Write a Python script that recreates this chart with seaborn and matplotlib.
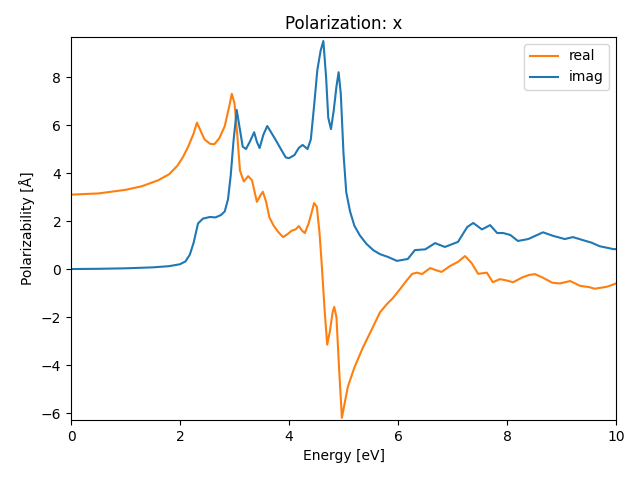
import matplotlib
matplotlib.use('Agg')
import matplotlib.pyplot as plt
import seaborn as sns

# real part
real_e = [0.0, 0.5, 1.0, 1.3, 1.6, 1.8, 1.95, 2.05, 2.15, 2.25, 2.31, 2.38, 2.45, 2.55, 2.63,
          2.72, 2.82, 2.9, 2.95, 3.0, 3.05, 3.1, 3.17, 3.25, 3.32, 3.41, 3.47, 3.52, 3.58,
          3.64, 3.72, 3.8, 3.89, 3.97, 4.05, 4.12, 4.18, 4.24, 4.29, 4.36, 4.42, 4.46, 4.51,
          4.56, 4.6, 4.65, 4.7, 4.75, 4.8, 4.83, 4.87, 4.92, 4.97, 5.02, 5.08, 5.2, 5.35,
          5.5, 5.67, 5.8, 5.91, 6.05, 6.15, 6.26, 6.35, 6.44, 6.59, 6.7, 6.8, 6.95, 7.1,
          7.23, 7.35, 7.47, 7.63, 7.74, 7.87, 8.0, 8.11, 8.29, 8.4, 8.51, 8.65, 8.83, 8.97,
          9.16, 9.34, 9.5, 9.61, 9.83, 9.98, 10.0]
real_v = [3.1, 3.15, 3.3, 3.45, 3.7, 3.95, 4.3, 4.65, 5.1, 5.65, 6.1, 5.75, 5.4, 5.22, 5.2,
          5.45, 5.95, 6.75, 7.3, 6.9, 5.6, 4.1, 3.65, 3.87, 3.7, 2.8, 3.05, 3.22, 2.8,
          2.15, 1.8, 1.55, 1.33, 1.45, 1.6, 1.65, 1.79, 1.6, 1.5, 1.9, 2.4, 2.75, 2.6,
          1.5, 0.2, -1.6, -3.15, -2.6, -1.8, -1.58, -2.0, -4.2, -6.2, -5.6, -4.9, -4.1, -3.3,
          -2.6, -1.8, -1.45, -1.2, -0.8, -0.5, -0.2, -0.15, -0.21, 0.04, -0.05, -0.12, 0.12, 0.3,
          0.54, 0.25, -0.2, -0.15, -0.55, -0.42, -0.48, -0.55, -0.34, -0.25, -0.21, -0.35, -0.57, -0.6,
          -0.5, -0.7, -0.75, -0.82, -0.74, -0.62, -0.6]

# imaginary part
imag_e = [0.0, 0.5, 1.0, 1.5, 1.8, 2.0, 2.1, 2.18, 2.25, 2.33, 2.42, 2.55, 2.65, 2.75,
          2.82, 2.88, 2.93, 2.98, 3.04, 3.1, 3.15, 3.21, 3.28, 3.36, 3.41, 3.46, 3.53,
          3.6, 3.67, 3.75, 3.85, 3.94, 4.0, 4.1, 4.18, 4.25, 4.34, 4.4, 4.46, 4.52, 4.58,
          4.63, 4.68, 4.72, 4.77, 4.82, 4.87, 4.91, 4.95, 5.0, 5.05, 5.12, 5.2, 5.3, 5.42,
          5.55, 5.67, 5.82, 5.98, 6.18, 6.31, 6.5, 6.68, 6.86, 7.1, 7.27, 7.38, 7.54, 7.69,
          7.82, 7.93, 8.06, 8.2, 8.39, 8.66, 8.85, 9.06, 9.21, 9.4, 9.55, 9.7, 9.85, 9.95, 10.0]
imag_v = [0.0, 0.01, 0.03, 0.07, 0.12, 0.2, 0.32, 0.6, 1.1, 1.9, 2.1, 2.17, 2.15, 2.25,
          2.4, 2.9, 3.9, 5.3, 6.63, 5.8, 5.1, 5.0, 5.3, 5.7, 5.3, 5.04, 5.6,
          5.96, 5.7, 5.4, 5.0, 4.65, 4.62, 4.75, 5.05, 5.17, 5.0, 5.4, 6.8, 8.3, 9.1,
          9.5, 8.0, 6.3, 5.83, 6.6, 7.6, 8.2, 7.3, 4.8, 3.2, 2.4, 1.8, 1.4, 1.05,
          0.78, 0.62, 0.5, 0.34, 0.42, 0.79, 0.82, 1.08, 0.92, 1.13, 1.75, 1.92, 1.65, 1.83,
          1.5, 1.5, 1.42, 1.17, 1.25, 1.53, 1.38, 1.25, 1.33, 1.2, 1.1, 0.95, 0.88, 0.83, 0.83]

fig, ax = plt.subplots(figsize=(6.4, 4.8), dpi=100)
sns.lineplot(x=real_e, y=real_v, color='tab:orange', label='real', ax=ax)
sns.lineplot(x=imag_e, y=imag_v, color='tab:blue', label='imag', ax=ax)
ax.set_xlim(0, 10)
ax.set_ylim(-6.29, 9.67)
ax.set_title('Polarization: x')
ax.set_xlabel('Energy [eV]')
ax.set_ylabel('Polarizability [Å]')
ax.legend(loc='upper right')
fig.subplots_adjust(left=0.111, right=0.9625, top=0.923, bottom=0.125)
plt.savefig('out.png')
